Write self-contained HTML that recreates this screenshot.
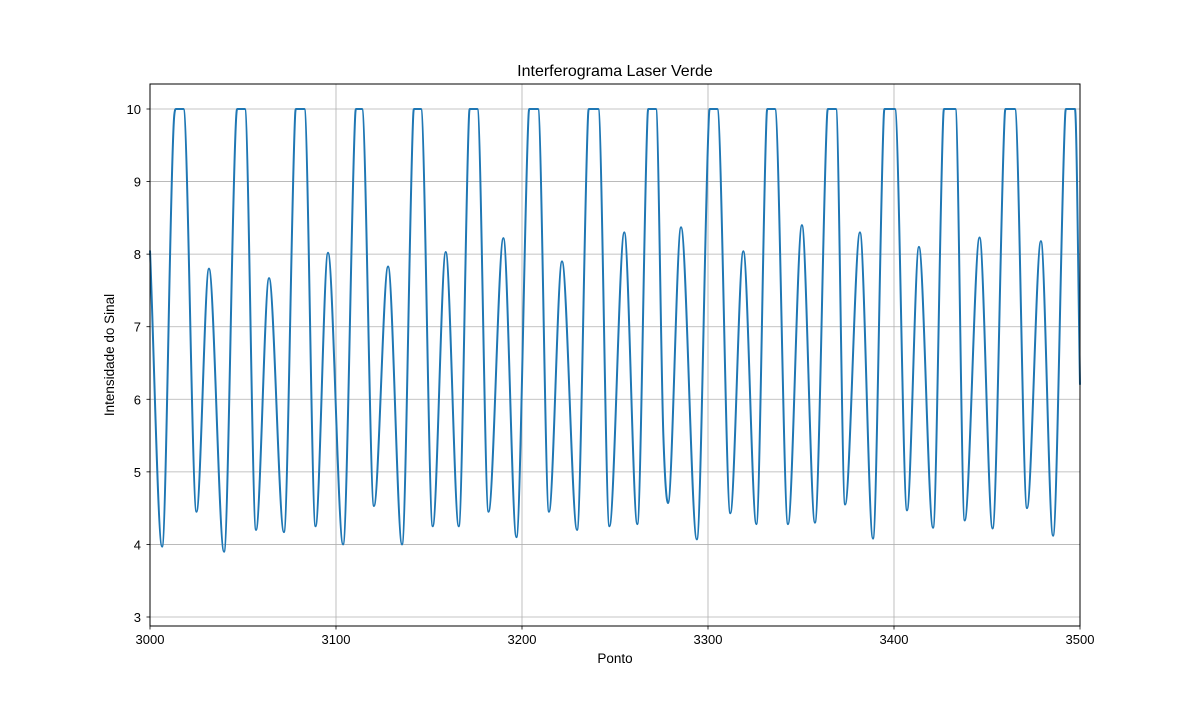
<!DOCTYPE html>
<html><head><meta charset="utf-8"><style>
body{margin:0;background:#fff}
svg text{font-family:"Liberation Sans","DejaVu Sans",sans-serif;fill:#000}
</style></head><body>
<svg id="chart" width="1200" height="700" xmlns="http://www.w3.org/2000/svg">
<rect width="1200" height="700" fill="#fff"/>
<g id="grid"></g>
<g id="series"></g>
<rect x="150" y="84" width="930" height="542" fill="none" stroke="#000" stroke-width="1"/>
<g id="ticks"></g>
<text x="615" y="76" text-anchor="middle" font-size="16">Interferograma Laser Verde</text>
<text x="615" y="663" text-anchor="middle" font-size="13.5">Ponto</text>
<text x="114" y="355" text-anchor="middle" font-size="13.5" transform="rotate(-90 114 355)">Intensidade do Sinal</text>
</svg>
<script>
const xTicks=[3000,3100,3200,3300,3400,3500];
const yTicks=[3,4,5,6,7,8,9,10];
const pointX=[3000,3006.5,3013,3014,3018,3025,3031.7,3039.8,3046.5,3047,3051,3057,3064,3072,3078,3078.5,3083,3089,3095.7,3103.8,3110.3,3110.8,3114,3120.4,3128,3135.5,3141.5,3142,3145.7,3152,3159,3166,3171.5,3172,3176,3182,3190,3197,3203.5,3204,3208.6,3214.5,3221.5,3229.6,3235.5,3236,3241,3247,3255,3262,3267.5,3268,3272,3276,3278.5,3285.5,3294,3300.5,3301,3305,3312,3319,3326,3331.5,3332,3336,3343,3350.5,3357.5,3364,3364.5,3368.8,3373.7,3381.7,3388.7,3394.5,3395,3400.5,3407,3413.4,3421,3426.5,3427,3433,3438,3446,3453,3459.5,3460,3465,3471.5,3479,3485.5,3492,3492.5,3497.3,3500];
const pointY=[8.05,3.97,9.9,10,10,4.45,7.8,3.9,9.95,10,10,4.2,7.67,4.17,9.9,10,10,4.25,8.02,4.0,9.9,10,10,4.53,7.83,4.0,9.9,10,10,4.25,8.03,4.25,9.9,10,10,4.45,8.22,4.1,9.9,10,10,4.45,7.9,4.2,9.9,10,10,4.25,8.3,4.28,9.9,10,10,5.5,4.57,8.37,4.07,9.9,10,10,4.43,8.04,4.28,9.9,10,10,4.28,8.4,4.3,9.9,10,10,4.55,8.3,4.08,9.9,10,10,4.47,8.1,4.23,9.9,10,10,4.33,8.23,4.22,9.9,10,10,4.5,8.18,4.12,9.9,10,10,6.2];
const NS="http://www.w3.org/2000/svg";
const X0=150,X1=1080,xMin=3000,xMax=3500;
const yPx10=109,yPerUnit=(617-109)/7;
function sx(v){return X0+(v-xMin)/(xMax-xMin)*(X1-X0);}
function sy(v){return yPx10+(10-v)*yPerUnit;}
const grid=document.getElementById('grid'),ticks=document.getElementById('ticks'),series=document.getElementById('series');
function mk(tag,attrs){const e=document.createElementNS(NS,tag);for(const k in attrs)e.setAttribute(k,attrs[k]);return e;}
xTicks.forEach(t=>{
  const x=sx(t);
  const g=mk('line',{x1:x,x2:x,y1:84,y2:626,stroke:'#b0b0b0','stroke-width':0.8});
  
  
  grid.appendChild(g);
  const tk=mk('line',{x1:x,x2:x,y1:626,y2:629.5,stroke:'#000','stroke-width':0.8});
  
  
  ticks.appendChild(tk);
  const tx=mk('text',{x:x,y:644,'text-anchor':'middle','font-size':13});
  
  
  tx.textContent=t;ticks.appendChild(tx);
});
yTicks.forEach(t=>{
  const y=sy(t);
  const g=mk('line',{x1:150,x2:1080,y1:y,y2:y,stroke:'#b0b0b0','stroke-width':0.8});
  
  
  grid.appendChild(g);
  const tk=mk('line',{x1:146.5,x2:150,y1:y,y2:y,stroke:'#000','stroke-width':0.8});
  
  
  ticks.appendChild(tk);
  const tx=mk('text',{x:141,y:y+5,'text-anchor':'end','font-size':13});
  
  
  tx.textContent=t;ticks.appendChild(tx);
});
// monotone cubic path (no overshoot)
const P=pointX.map((v,i)=>[sx(v),sy(pointY[i])]);
const n=P.length,d=[],m=[];
for(let i=0;i<n-1;i++)d.push((P[i+1][1]-P[i][1])/(P[i+1][0]-P[i][0]));
m[0]=d[0];m[n-1]=d[n-2];
for(let i=1;i<n-1;i++){m[i]=(d[i-1]*d[i]<=0)?0:(d[i-1]+d[i])/2;}
for(let i=0;i<n-1;i++){
  if(d[i]===0){m[i]=0;m[i+1]=0;continue;}
  const a=m[i]/d[i],b=m[i+1]/d[i],s=a*a+b*b;
  if(s>9){const t=3/Math.sqrt(s);m[i]=t*a*d[i];m[i+1]=t*b*d[i];}
}
let path='M'+P[0][0].toFixed(2)+','+P[0][1].toFixed(2);
for(let i=0;i<n-1;i++){
  const h=(P[i+1][0]-P[i][0])/3;
  path+=' C'+(P[i][0]+h).toFixed(2)+','+(P[i][1]+m[i]*h).toFixed(2)+' '+(P[i+1][0]-h).toFixed(2)+','+(P[i+1][1]-m[i+1]*h).toFixed(2)+' '+P[i+1][0].toFixed(2)+','+P[i+1][1].toFixed(2);
}
const pl=mk('path',{d:path,fill:'none',stroke:'#1f77b4','stroke-width':2,'stroke-linejoin':'round'});


series.appendChild(pl);
</script>
</body></html>
